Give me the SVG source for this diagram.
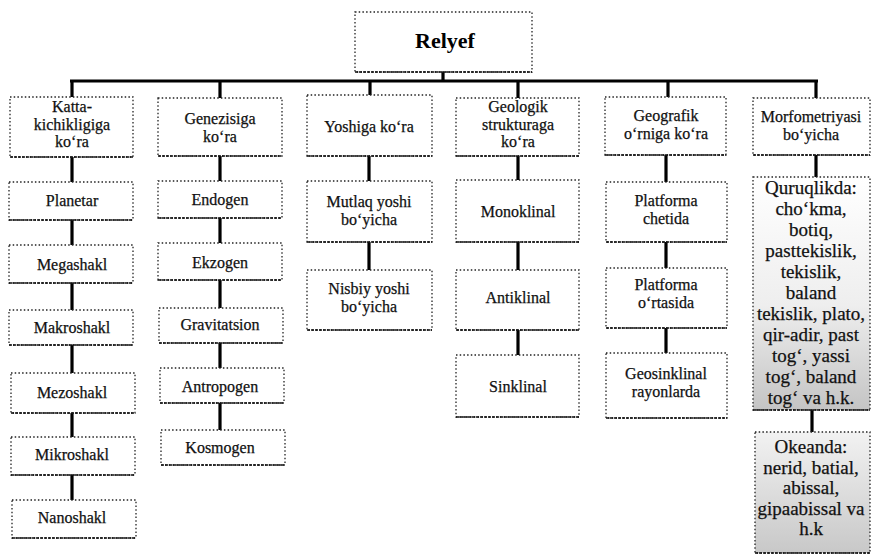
<svg xmlns="http://www.w3.org/2000/svg" width="874" height="556" viewBox="0 0 874 556">
<defs>
<style>
.bx{fill:#fff;stroke:#222;stroke-width:1.3;stroke-dasharray:1.5 2.2}
.bt{stroke:#111;stroke-width:1.6;stroke-dasharray:3 1}
.t{font-family:"Liberation Serif","Times New Roman",serif;font-size:16px;fill:#111;stroke:#111;stroke-width:0.25;text-anchor:middle}
.t6{font-family:"Liberation Serif","Times New Roman",serif;font-size:19px;fill:#111;stroke:#111;stroke-width:0.25;text-anchor:middle}
.h{font-family:"Liberation Serif","Times New Roman",serif;font-size:22px;font-weight:bold;fill:#000;text-anchor:middle}
.c{stroke:#000;stroke-width:3.2;fill:none}
</style>
<linearGradient id="g1" x1="0" y1="0" x2="0" y2="1">
<stop offset="0" stop-color="#ffffff"/>
<stop offset="0.55" stop-color="#eeeeee"/>
<stop offset="1" stop-color="#c4c4c4"/>
</linearGradient>
<linearGradient id="g2" x1="0" y1="0" x2="0" y2="1">
<stop offset="0" stop-color="#f2f2f2"/>
<stop offset="1" stop-color="#c8c8c8"/>
</linearGradient>
</defs>
<rect width="874" height="556" fill="#fff"/>

<g id="connectors">
<line class="c" x1="443" y1="72" x2="443" y2="81"/>
<line class="c" x1="70" y1="81" x2="818" y2="81"/>
<line class="c" x1="72" y1="81" x2="72" y2="97"/>
<line class="c" x1="220" y1="81" x2="220" y2="98"/>
<line class="c" x1="370" y1="81" x2="370" y2="95"/>
<line class="c" x1="518" y1="81" x2="518" y2="98"/>
<line class="c" x1="668" y1="81" x2="668" y2="97"/>
<line class="c" x1="816" y1="81" x2="816" y2="98"/>
<line class="c" x1="72" y1="157" x2="72" y2="182"/>
<line class="c" x1="72" y1="220" x2="72" y2="245"/>
<line class="c" x1="72" y1="283" x2="72" y2="310"/>
<line class="c" x1="72" y1="345" x2="72" y2="373"/>
<line class="c" x1="72" y1="413" x2="72" y2="437"/>
<line class="c" x1="72" y1="475" x2="72" y2="500"/>
<line class="c" x1="220" y1="156" x2="220" y2="181"/>
<line class="c" x1="220" y1="218" x2="220" y2="243"/>
<line class="c" x1="220" y1="280" x2="220" y2="308"/>
<line class="c" x1="220" y1="343" x2="220" y2="368"/>
<line class="c" x1="220" y1="403" x2="220" y2="430"/>
<line class="c" x1="369" y1="156" x2="369" y2="181"/>
<line class="c" x1="369" y1="242" x2="369" y2="270"/>
<line class="c" x1="518" y1="156" x2="518" y2="180"/>
<line class="c" x1="518" y1="242" x2="518" y2="270"/>
<line class="c" x1="518" y1="330" x2="518" y2="355"/>
<line class="c" x1="666" y1="155" x2="666" y2="182"/>
<line class="c" x1="666" y1="242" x2="666" y2="268"/>
<line class="c" x1="666" y1="328" x2="666" y2="353"/>
<line class="c" x1="816" y1="155" x2="816" y2="177"/>
<line class="c" x1="812" y1="410" x2="812" y2="432"/>
</g>

<g id="relyef">
<rect class="bx" x="355" y="12" width="177" height="60"/>
<line class="bt" x1="355" y1="72" x2="532" y2="72"/>
<text class="h" x="445" y="48">Relyef</text>
</g>

<g id="katta">
<rect class="bx" x="10" y="97" width="123" height="60"/>
<line class="bt" x1="10" y1="157" x2="133" y2="157"/>
<text class="t" x="72" y="112">Katta-</text>
<text class="t" x="72" y="129.5">kichikligiga</text>
<text class="t" x="72" y="147">ko‘ra</text>
</g>
<g id="genezis">
<rect class="bx" x="158" y="98" width="124" height="58"/>
<line class="bt" x1="158" y1="156" x2="282" y2="156"/>
<text class="t" x="220" y="124">Genezisiga</text>
<text class="t" x="220" y="142">ko‘ra</text>
</g>
<g id="yosh">
<rect class="bx" x="307" y="95" width="125" height="61"/>
<line class="bt" x1="307" y1="156" x2="432" y2="156"/>
<text class="t" x="369" y="132">Yoshiga ko‘ra</text>
</g>
<g id="geolog">
<rect class="bx" x="456" y="98" width="123" height="58"/>
<line class="bt" x1="456" y1="156" x2="579" y2="156"/>
<text class="t" x="518" y="112">Geologik</text>
<text class="t" x="518" y="129.5">strukturaga</text>
<text class="t" x="518" y="147">ko‘ra</text>
</g>
<g id="geograf">
<rect class="bx" x="605" y="97" width="121" height="58"/>
<line class="bt" x1="605" y1="155" x2="726" y2="155"/>
<text class="t" x="666" y="121">Geografik</text>
<text class="t" x="666" y="139">o‘rniga ko‘ra</text>
</g>
<g id="morfo">
<rect class="bx" x="753" y="98" width="117" height="57"/>
<line class="bt" x1="753" y1="155" x2="870" y2="155"/>
<text class="t" x="811" y="122">Morfometriyasi</text>
<text class="t" x="811" y="140">bo‘yicha</text>
</g>

<g id="planetar">
<rect class="bx" x="9" y="182" width="124" height="38"/>
<line class="bt" x1="9" y1="220" x2="133" y2="220"/>
<text class="t" x="72" y="206">Planetar</text>
</g>
<g id="megashakl">
<rect class="bx" x="9" y="245" width="124" height="38"/>
<line class="bt" x1="9" y1="283" x2="133" y2="283"/>
<text class="t" x="72" y="270">Megashakl</text>
</g>
<g id="makroshakl">
<rect class="bx" x="9" y="310" width="124" height="35"/>
<line class="bt" x1="9" y1="345" x2="133" y2="345"/>
<text class="t" x="72" y="333">Makroshakl</text>
</g>
<g id="mezoshakl">
<rect class="bx" x="11" y="373" width="124" height="40"/>
<line class="bt" x1="11" y1="413" x2="135" y2="413"/>
<text class="t" x="72" y="398">Mezoshakl</text>
</g>
<g id="mikroshakl">
<rect class="bx" x="11" y="437" width="124" height="38"/>
<line class="bt" x1="11" y1="475" x2="135" y2="475"/>
<text class="t" x="72" y="460">Mikroshakl</text>
</g>
<g id="nanoshakl">
<rect class="bx" x="12" y="500" width="124" height="38"/>
<line class="bt" x1="12" y1="538" x2="136" y2="538"/>
<text class="t" x="72" y="523">Nanoshakl</text>
</g>

<g id="endogen">
<rect class="bx" x="158" y="181" width="124" height="37"/>
<line class="bt" x1="158" y1="218" x2="282" y2="218"/>
<text class="t" x="220" y="205">Endogen</text>
</g>
<g id="ekzogen">
<rect class="bx" x="158" y="243" width="124" height="37"/>
<line class="bt" x1="158" y1="280" x2="282" y2="280"/>
<text class="t" x="220" y="268">Ekzogen</text>
</g>
<g id="gravitatsion">
<rect class="bx" x="159" y="308" width="124" height="35"/>
<line class="bt" x1="159" y1="343" x2="283" y2="343"/>
<text class="t" x="220" y="330">Gravitatsion</text>
</g>
<g id="antropogen">
<rect class="bx" x="160" y="368" width="124" height="35"/>
<line class="bt" x1="160" y1="403" x2="284" y2="403"/>
<text class="t" x="220" y="392">Antropogen</text>
</g>
<g id="kosmogen">
<rect class="bx" x="161" y="430" width="124" height="35"/>
<line class="bt" x1="161" y1="465" x2="285" y2="465"/>
<text class="t" x="220" y="453">Kosmogen</text>
</g>

<g id="mutlaq">
<rect class="bx" x="307" y="181" width="125" height="61"/>
<line class="bt" x1="307" y1="242" x2="432" y2="242"/>
<text class="t" x="369" y="207">Mutlaq yoshi</text>
<text class="t" x="369" y="225">bo‘yicha</text>
</g>
<g id="nisbiy">
<rect class="bx" x="307" y="270" width="125" height="60"/>
<line class="bt" x1="307" y1="330" x2="432" y2="330"/>
<text class="t" x="369" y="294">Nisbiy yoshi</text>
<text class="t" x="369" y="312">bo‘yicha</text>
</g>

<g id="monoklinal">
<rect class="bx" x="456" y="180" width="123" height="62"/>
<line class="bt" x1="456" y1="242" x2="579" y2="242"/>
<text class="t" x="518" y="217">Monoklinal</text>
</g>
<g id="antiklinal">
<rect class="bx" x="456" y="270" width="123" height="60"/>
<line class="bt" x1="456" y1="330" x2="579" y2="330"/>
<text class="t" x="518" y="303">Antiklinal</text>
</g>
<g id="sinklinal">
<rect class="bx" x="456" y="355" width="123" height="62"/>
<line class="bt" x1="456" y1="417" x2="579" y2="417"/>
<text class="t" x="518" y="392">Sinklinal</text>
</g>

<g id="chetida">
<rect class="bx" x="606" y="182" width="121" height="60"/>
<line class="bt" x1="606" y1="242" x2="727" y2="242"/>
<text class="t" x="666" y="206">Platforma</text>
<text class="t" x="666" y="224">chetida</text>
</g>
<g id="ortasida">
<rect class="bx" x="606" y="268" width="121" height="60"/>
<line class="bt" x1="606" y1="328" x2="727" y2="328"/>
<text class="t" x="666" y="290">Platforma</text>
<text class="t" x="666" y="308">o‘rtasida</text>
</g>
<g id="geosinklinal">
<rect class="bx" x="606" y="353" width="121" height="65"/>
<line class="bt" x1="606" y1="418" x2="727" y2="418"/>
<text class="t" x="666" y="379">Geosinklinal</text>
<text class="t" x="666" y="397">rayonlarda</text>
</g>

<g id="quruqlik">
<rect class="bx" x="753" y="177" width="117" height="233" style="fill:url(#g1)"/>
<line class="bt" x1="753" y1="410" x2="870" y2="410"/>
<text class="t6" x="811" y="194">Quruqlikda:</text>
<text class="t6" x="811" y="215">cho‘kma,</text>
<text class="t6" x="811" y="236">botiq,</text>
<text class="t6" x="811" y="257">pasttekislik,</text>
<text class="t6" x="811" y="278">tekislik,</text>
<text class="t6" x="811" y="299">baland</text>
<text class="t6" x="811" y="320">tekislik, plato,</text>
<text class="t6" x="811" y="341">qir-adir, past</text>
<text class="t6" x="811" y="362">tog‘, yassi</text>
<text class="t6" x="811" y="383">tog‘, baland</text>
<text class="t6" x="811" y="404">tog‘ va h.k.</text>
</g>
<g id="okeanda">
<rect class="bx" x="755" y="432" width="115" height="121" style="fill:url(#g2)"/>
<line class="bt" x1="755" y1="553" x2="870" y2="553"/>
<text class="t6" x="811" y="453">Okeanda:</text>
<text class="t6" x="811" y="473.5">nerid, batial,</text>
<text class="t6" x="811" y="494">abissal,</text>
<text class="t6" x="811" y="514.5">gipaabissal va</text>
<text class="t6" x="811" y="535">h.k</text>
</g>
</svg>
